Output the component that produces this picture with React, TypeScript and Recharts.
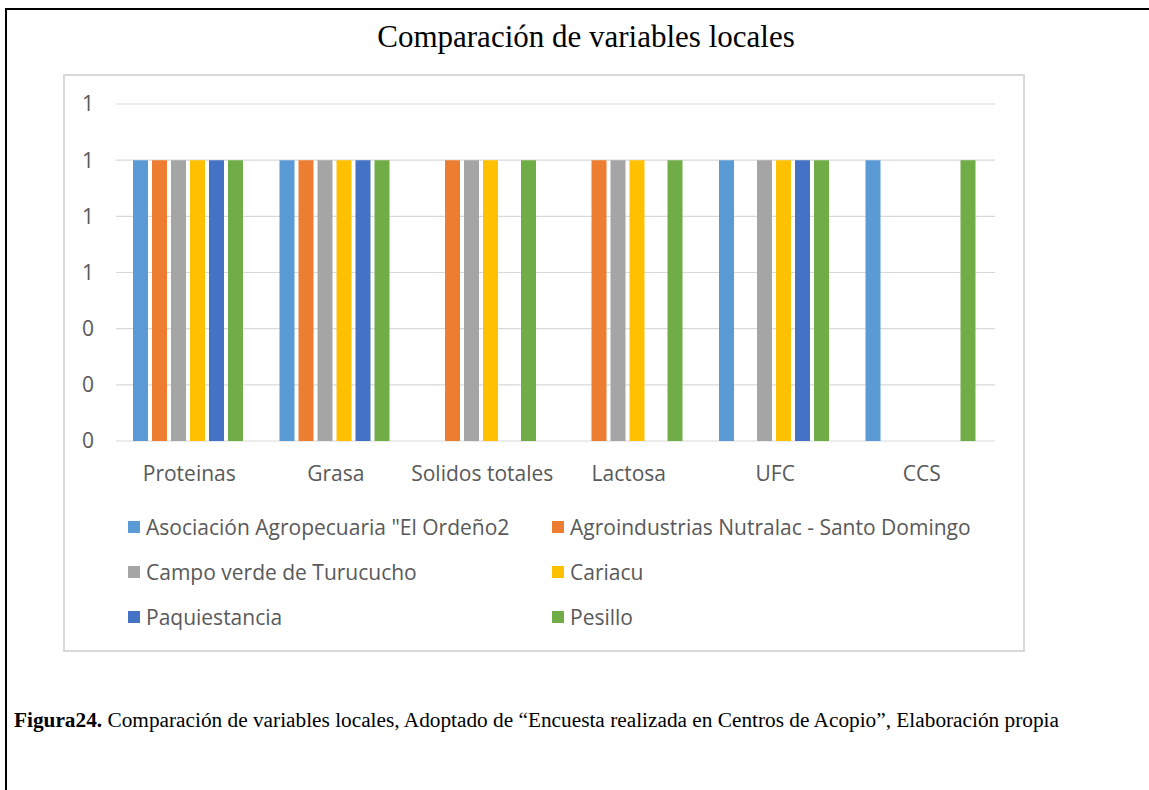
import { BarChart, Bar, XAxis, YAxis, CartesianGrid, Legend } from 'recharts';

// categories on the x axis
const categories = ['Proteinas', 'Grasa', 'Solidos totales', 'Lactosa', 'UFC', 'CCS'];

// one list per acopio center (1 = reported, 0 = not reported)
const elOrdeno = [1, 1, 0, 0, 1, 1];
const nutralac = [1, 1, 1, 1, 0, 0];
const campoVerde = [1, 1, 1, 1, 1, 0];
const cariacu = [1, 1, 1, 1, 1, 0];
const paquiestancia = [1, 1, 0, 0, 1, 0];
const pesillo = [1, 1, 1, 1, 1, 1];

const seriesNames = [
  'Asociación Agropecuaria "El Ordeño2',
  'Agroindustrias Nutralac - Santo Domingo',
  'Campo verde de Turucucho',
  'Cariacu',
  'Paquiestancia',
  'Pesillo',
];
const seriesValues = [elOrdeno, nutralac, campoVerde, cariacu, paquiestancia, pesillo];
const seriesColors = ['#5B9BD5', '#ED7D31', '#A5A5A5', '#FFC000', '#4472C4', '#70AD47'];

const yTicks = [0, 0.2, 0.4, 0.6, 0.8, 1, 1.2];

const data = categories.map((name, i) => {
  const row: Record<string, string | number> = { name };
  seriesValues.forEach((vals, s) => {
    row[`s${s}`] = vals[i];
  });
  return row;
});

const axisText = { fill: '#595959', fontSize: 21, fontFamily: 'Open Sans' };

function LegendBox() {
  return (
    <div
      style={{
        height: 159,
        paddingTop: 14,
        boxSizing: 'border-box',
        display: 'grid',
        gridTemplateColumns: '424px 424px',
        gridAutoRows: '44.75px',
        paddingLeft: 63,
        fontFamily: 'Open Sans',
        fontSize: 21,
        color: '#595959',
      }}
    >
      {seriesNames.map((n, i) => (
        <div key={n} style={{ display: 'flex', alignItems: 'center', whiteSpace: 'nowrap' }}>
          <span
            style={{
              display: 'inline-block',
              width: 12,
              height: 12,
              background: seriesColors[i],
              marginRight: 6,
            }}
          />
          <span>{n}</span>
        </div>
      ))}
    </div>
  );
}

export default function App() {
  return (
    <div style={{ position: 'absolute', left: 0, top: 0, width: 1149, height: 790, background: '#fff' }}>
      {/* page frame */}
      <div
        style={{
          position: 'absolute',
          left: 5,
          top: 8,
          width: 1144,
          height: 782,
          borderLeft: '2px solid #000',
          borderTop: '2px solid #000',
          boxSizing: 'border-box',
        }}
      />
      <div
        style={{
          position: 'absolute',
          left: 286,
          width: 600,
          top: 17,
          textAlign: 'center',
          fontFamily: '"Liberation Serif", "Times New Roman", serif',
          fontSize: 31,
          lineHeight: '40px',
          color: '#000',
        }}
      >
        Comparación de variables locales
      </div>

      <div
        style={{
          position: 'absolute',
          left: 63,
          top: 74,
          width: 962,
          height: 578,
          border: '2px solid #D9D9D9',
          boxSizing: 'border-box',
        }}
      >
        <BarChart
          width={958}
          height={574}
          data={data}
          margin={{ top: 28, right: 28, left: 0, bottom: 0 }}
          barCategoryGap={17}
          barGap={4}
        >
          <CartesianGrid vertical={false} stroke="#D9D9D9" strokeWidth={1.2} />
          <XAxis
            dataKey="name"
            axisLine={false}
            tickLine={false}
            tickSize={0}
            tickMargin={25}
            height={50}
            tick={axisText}
            interval={0}
          />
          <YAxis
            type="number"
            domain={[0, 1.2]}
            ticks={yTicks}
            tickFormatter={(v: number) => String(Math.round(v))}
            axisLine={false}
            tickLine={false}
            tickSize={0}
            tickMargin={22}
            width={51}
            tick={axisText}
          />
          <Legend verticalAlign="bottom" content={() => <LegendBox />} />
          {seriesNames.map((n, i) => (
            <Bar key={n} dataKey={`s${i}`} name={n} fill={seriesColors[i]} isAnimationActive={false} />
          ))}
        </BarChart>
      </div>

      <div
        style={{
          position: 'absolute',
          left: 14,
          top: 708,
          fontFamily: '"Liberation Serif", "Times New Roman", serif',
          fontSize: 21.3,
          lineHeight: '24px',
          color: '#000',
          whiteSpace: 'nowrap',
        }}
      >
        <b>Figura24.</b> Comparación de variables locales, Adoptado de “Encuesta realizada en Centros de Acopio”, Elaboración propia
      </div>
    </div>
  );
}
